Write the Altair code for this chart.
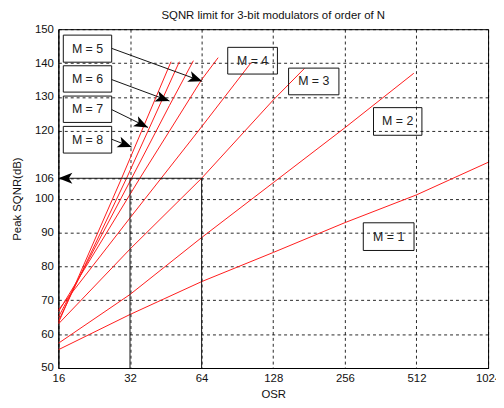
import math
import altair as alt
import pandas as pd

# ---- data ----
orders = [1, 2, 3, 4, 5, 6, 7, 8]
osr_m1 = [16, 32, 64, 128, 256, 512, 1024]
sqnr_m1 = [55.4, 65.8, 75.5, 84.1, 92.9, 101.1, 110.7]
osr_m2 = [16, 32, 64, 128, 256, 499]
sqnr_m2 = [57.3, 71.7, 88.5, 104.7, 120.9, 137.0]
osr_m3 = [16, 32, 64, 128, 173]
sqnr_m3 = [63.0, 85.1, 106.0, 129.1, 138.4]
osr_m4 = [16, 32, 64, 103]
sqnr_m4 = [67.1, 94.3, 121.2, 140.0]
osr_m5 = [16, 35.2, 64, 75.1]
sqnr_m5 = [66.6, 106.0, 135.1, 141.6]
osr_m6 = [16, 32.5, 46.9, 59.1]
sqnr_m6 = [65.0, 106.0, 127.5, 140.7]
osr_m7 = [16, 30.95, 51.6]
sqnr_m7 = [63.8, 106.0, 140.4]
osr_m8 = [16, 29.5, 47.6]
sqnr_m8 = [63.3, 106.0, 140.4]

x_ticks = [16, 32, 64, 128, 256, 512, 1024]
y_ticks = [50, 60, 70, 80, 90, 100, 106, 120, 130, 140, 150]

# label boxes (data coordinates)
box_text = ["M = 1", "M = 2", "M = 3", "M = 4", "M = 5", "M = 6", "M = 7", "M = 8"]
box_x1 = [306, 337.8, 148.5, 82.4, 16.78, 16.78, 16.78, 16.78]
box_x2 = [500, 539.7, 241.7, 133.3, 26.8, 26.8, 26.8, 26.8]
box_y1 = [84.69, 118.69, 130.64, 136.76, 140.26, 131.43, 122.48, 113.44]
box_y2 = [92.86, 126.85, 138.51, 144.64, 148.25, 139.2, 130.26, 121.31]

# black segments: marker lines and arrows (from -> to)
seg_x1 = [32, 64, 64, 26.8, 26.8, 26.8, 26.8]
seg_y1 = [50, 50, 106, 144.34, 135.13, 126.27, 117.52]
seg_x2 = [32, 64, 16, 64.4, 46.9, 38.1, 32.5]
seg_y2 = [106, 106, 106, 134.6, 128.8, 121.0, 115.2]
seg_head = [False, False, True, True, True, True, True]

W, H = 435, 343

series = {1: (osr_m1, sqnr_m1), 2: (osr_m2, sqnr_m2), 3: (osr_m3, sqnr_m3),
          4: (osr_m4, sqnr_m4), 5: (osr_m5, sqnr_m5), 6: (osr_m6, sqnr_m6),
          7: (osr_m7, sqnr_m7), 8: (osr_m8, sqnr_m8)}
rows = []
for m in orders:
    xs, ys = series[m]
    for xv, yv in zip(xs, ys):
        rows.append({"M": m, "osr": xv, "sqnr": yv})
lines_df = pd.DataFrame(rows)

seg_df = pd.DataFrame({"x": seg_x1, "y": seg_y1, "x2": seg_x2, "y2": seg_y2})


def px(xv):
    return W * (math.log2(xv) - 4) / 6


def py(yv):
    return H * (1 - (yv - 50) / 100)


heads = []
for a, b, c, d, h in zip(seg_x1, seg_y1, seg_x2, seg_y2, seg_head):
    if h:
        ang = math.degrees(math.atan2(py(d) - py(b), px(c) - px(a))) % 360
        heads.append({"x": c, "y": d, "ang": ang})
head_df = pd.DataFrame(heads)

box_df = pd.DataFrame({"t": box_text, "x1": box_x1, "x2": box_x2, "y1": box_y1, "y2": box_y2})
box_df["xc"] = [math.sqrt(a * b) for a, b in zip(box_x1, box_x2)]
box_df["yc"] = [(a + b) / 2 for a, b in zip(box_y1, box_y2)]

FONT = "Liberation Sans"
xscale = alt.Scale(type="log", base=2, domain=[16, 1024], nice=False)
yscale = alt.Scale(domain=[50, 150], nice=False, zero=False)
x_axis = alt.Axis(values=x_ticks, format="d", title="OSR", labelPadding=5,
                  titlePadding=4, ticks=False, labelFlush=False, labelOverlap=False)
y_axis = alt.Axis(values=y_ticks, format="d", title="Peak SQNR(dB)", labelPadding=5,
                  titlePadding=12, ticks=False, labelFlush=False, labelOverlap=False,
                  labelBound=False)


def X(f):
    return alt.X(f, scale=xscale, axis=x_axis)


def Y(f):
    return alt.Y(f, scale=yscale, axis=y_axis)


lines = alt.Chart(lines_df).mark_line(color="#ff1a1a", strokeWidth=1, clip=True).encode(
    x=X("osr:Q"), y=Y("sqnr:Q"), detail="M:N",
)

segs = alt.Chart(seg_df).mark_rule(color="#111111", strokeWidth=1).encode(
    x=X("x:Q"), y=Y("y:Q"), x2="x2:Q", y2="y2:Q",
)

arrow_path = "M 0 0 L -2 -0.8 L -1.5 0 L -2 0.8 Z"
heads_layer = alt.Chart(head_df).mark_point(
    shape=arrow_path, filled=True, color="#000000", size=200, opacity=1
).encode(
    x=X("x:Q"), y=Y("y:Q"), angle=alt.Angle("ang:Q", scale=None),
)

boxes = alt.Chart(box_df).mark_rect(fillOpacity=0, stroke="#111111", strokeWidth=1).encode(
    x=X("x1:Q"), x2="x2:Q", y=Y("y1:Q"), y2="y2:Q",
)

texts = alt.Chart(box_df).mark_text(font=FONT, fontSize=12.5, color="#222222",
                                    align="center", baseline="middle").encode(
    x=X("xc:Q"), y=Y("yc:Q"), text="t:N",
)

chart = alt.layer(lines, segs, boxes, texts, heads_layer).properties(
    width=W, height=H,
    title=alt.TitleParams("SQNR limit for 3-bit modulators of order of N", fontSize=11.5,
                          fontWeight="normal", font=FONT, color="#111111", offset=2),
    autosize=alt.AutoSizeParams(type="none"),
    padding={"left": 51, "top": 19, "right": 8, "bottom": 36},
).configure_view(stroke="#000000", strokeWidth=1).configure_axis(
    labelFont=FONT, titleFont=FONT, labelFontSize=11.5, titleFontSize=11.5,
    labelColor="#111111", titleColor="#111111", titleFontWeight="normal",
    domainColor="#000000", grid=True, gridColor="#000000", gridDash=[3, 3],
    gridOpacity=0.85, gridWidth=1, labelOverlap=False,
)

chart.save("out.html", embed_options={"renderer": "svg", "actions": False})
